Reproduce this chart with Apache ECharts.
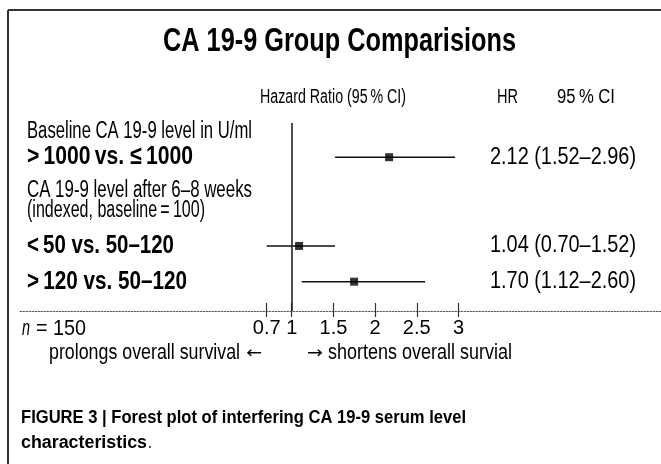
<!DOCTYPE html>
<html><head><meta charset="utf-8">
<script src="https://cdn.jsdelivr.net/npm/echarts@6/dist/echarts.min.js"></script>
<style>html,body{margin:0;padding:0;background:#fff}#c{width:661px;height:464px}</style>
</head><body><div id="c"></div>
<script>
// ---------- DATA ----------
const titleText = 'CA 19-9 Group Comparisions';
const columnHeaders = ['Hazard Ratio (95\u2009% CI)', 'HR', '95\u2009% CI'];
const groupHeaders = ['Baseline CA 19-9 level in U/ml', 'CA 19-9 level after 6\u20138 weeks', '(indexed, baseline\u2009=\u2009100)'];
const categories = ['>\u20091000\u2009vs. \u2264\u20091000', '<\u200950 vs. 50\u2013120', '>\u2009120 vs. 50\u2013120'];
const hazardRatio = [2.12, 1.04, 1.70];
const ciLower = [1.52, 0.70, 1.12];
const ciUpper = [2.96, 1.52, 2.60];
const tickValues = [0.7, 1, 1.5, 2, 2.5, 3];
const sampleSize = 150;
const directionLabels = ['prolongs overall survival', 'shortens overall survial'];
const directionArrows = ['\u2190', '\u2192'];
const captionLines = ['FIGURE 3 | Forest plot of interfering CA 19-9 serum level', 'characteristics'];

// ---------- LAYOUT ----------
const ROW_POS = [1.82, 6.54, 8.44];      // y-axis slot for each comparison row
const HEADER_POS = [0.48, 3.62, 4.68];   // y-axis slot for group header lines

const cv = document.createElement('canvas').getContext('2d');
function hasFont(name) {
  const s = 'abcdefghijklmnopqrstuvwxyzABCDEFGHIJ0123456789';
  cv.font = '40px monospace'; const a = cv.measureText(s).width;
  cv.font = '40px "' + name + '", monospace'; const b = cv.measureText(s).width;
  return a !== b;
}
const FAM = hasFont('Liberation Sans Narrow') ? 'Liberation Sans Narrow' : 'Liberation Sans';
function fit(text, x, y, w, size, weight, fstyle, fam) {
  weight = weight || 'normal'; fstyle = fstyle || 'normal'; fam = fam || FAM;
  cv.font = fstyle + ' ' + weight + ' ' + size + 'px ' + fam;
  const m = cv.measureText(text).width;
  return { type: 'text', x: x, y: y, scaleX: w / m, silent: true, z: 10,
    style: { text: text, x: 0, y: 0, fontSize: size, fontWeight: weight, fontStyle: fstyle,
      fontFamily: fam, fill: '#000', align: 'left', verticalAlign: 'middle' } };
}

const chart = echarts.init(document.getElementById('c'), null, { renderer: 'canvas' });
const XMIN = -2.26, XMAX = 5.43;
const tickStyle = { color: '#333', width: 1.2 };
chart.setOption({
  animation: false,
  grid: { left: 20, right: 0, top: 123, bottom: 153 },
  xAxis: [
    { type: 'value', min: XMIN, max: XMAX, position: 'bottom', splitLine: { show: false },
      axisLine: { show: true, onZero: false, lineStyle: { color: '#555', width: 1, type: [1.5, 1.5] } },
      axisTick: { show: true, inside: true, length: 8, customValues: tickValues, lineStyle: tickStyle },
      axisLabel: { show: true, customValues: tickValues, margin: 7, fontSize: FAM === 'Liberation Sans' ? 20 : 22,
        fontFamily: FAM, color: '#000', formatter: function (v) { return String(v); } } },
    { type: 'value', min: XMIN, max: XMAX, position: 'bottom', splitLine: { show: false },
      axisLine: { show: false, onZero: false },
      axisTick: { show: true, inside: false, length: 6, customValues: tickValues, lineStyle: tickStyle },
      axisLabel: { show: false } }
  ],
  yAxis: { type: 'value', min: 0, max: 10, inverse: true, show: false },
  series: [
    { type: 'custom', xAxisIndex: 0, yAxisIndex: 0,
      data: ciLower.map(function (lo, i) { return [lo, ROW_POS[i], ciUpper[i]]; }),
      encode: { x: [0, 2], y: 1 },
      renderItem: function (params, api) {
        const a = api.coord([api.value(0), api.value(1)]);
        const b = api.coord([api.value(2), api.value(1)]);
        return { type: 'line', shape: { x1: a[0], y1: a[1], x2: b[0], y2: b[1] },
          style: { stroke: '#111', lineWidth: 1.5 } };
      } },
    { type: 'scatter', xAxisIndex: 0, yAxisIndex: 0, symbol: 'rect', symbolSize: 8, symbolOffset: [4, 0],
      itemStyle: { color: '#000' }, z: 5,
      data: hazardRatio.map(function (h, i) { return [h, ROW_POS[i]]; }),
      markLine: { silent: true, symbol: ['none', 'none'], label: { show: false },
        lineStyle: { color: '#222', width: 1.6, type: 'solid' }, data: [{ xAxis: 1 }] } }
  ]
});

function py(v) { return chart.convertToPixel({ yAxisIndex: 0 }, v); }
const rowY = ROW_POS.map(py);
const headY = HEADER_POS.map(py);
function fmt(v) { return v.toFixed(2); }
const hrText = hazardRatio.map(function (h, i) { return fmt(h) + ' (' + fmt(ciLower[i]) + '\u2013' + fmt(ciUpper[i]) + ')'; });

const catW = [166, 147, 160];
const headW = [225, 225, 178];
const g = [
  { type: 'line', shape: { x1: 8, y1: 10, x2: 661, y2: 10 }, style: { stroke: '#333', lineWidth: 2 }, silent: true },
  { type: 'line', shape: { x1: 8, y1: 10, x2: 8, y2: 464 }, style: { stroke: '#333', lineWidth: 2 }, silent: true },
  fit(titleText, 163, 42, 353, 33, 'bold'),
  fit(columnHeaders[0], 260, 97, 146, 20),
  fit(columnHeaders[1], 497, 97, 21, 20),
  fit(columnHeaders[2], 557, 97, 58, 20),
  fit('n', 22, 329, 8, 22, 'normal', 'italic'),
  fit('= ' + sampleSize, 36, 329, 50, 22),
  fit(directionLabels[0], 49, 353, 191, 22),
  fit(directionArrows[0], 246, 354, 16, 16, 'normal', 'normal', 'DejaVu Sans'),
  fit(directionArrows[1], 307, 354, 16, 16, 'normal', 'normal', 'DejaVu Sans'),
  fit(directionLabels[1], 328, 353, 184, 22),
  fit(captionLines[0], 21, 418, 445, 18, 'bold'),
  fit(captionLines[1], 21, 443, 126, 18, 'bold'),
  fit('.', 148, 443, 4, 18)
];
groupHeaders.forEach(function (t, i) { g.push(fit(t, 27, headY[i], headW[i], 23)); });
categories.forEach(function (t, i) {
  g.push(fit(t, 27, rowY[i], catW[i], 26, 'bold'));
  g.push(fit(hrText[i], 490, rowY[i], 146, 23));
});
chart.setOption({ graphic: { elements: g } });
</script>
</body></html>
